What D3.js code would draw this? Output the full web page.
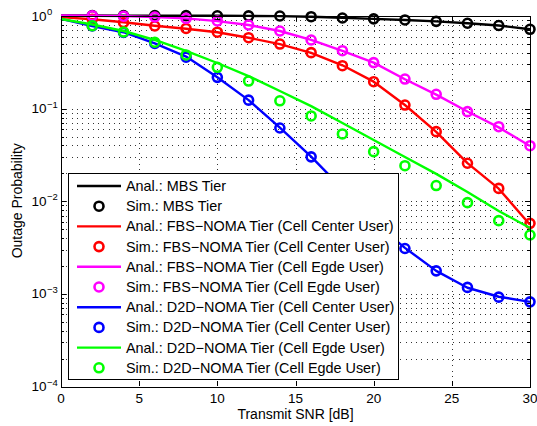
<!DOCTYPE html>
<meta charset="utf-8">
<style>
body { margin: 0; background: #fff; }
text { font-family: "Liberation Sans", Arial, sans-serif; fill: #000; }
.grid line { stroke: #333; stroke-width: 1; stroke-dasharray: 1,4.3; shape-rendering: crispEdges; }
.tick-mark { stroke: #000; stroke-width: 1; shape-rendering: crispEdges; }
</style>
<body>
<script src="https://cdn.jsdelivr.net/npm/d3@7"></script>
<script>

var width = 537,
    height = 426,
    margin = {top: 15.5, right: 7, bottom: 40, left: 61};

// transmit SNR [dB]
var snrLine = [0, 2, 4, 6, 8, 10, 12, 14, 16, 18, 20, 22, 24, 26, 28, 30];
var snrSim  = [2, 4, 6, 8, 10, 12, 14, 16, 18, 20, 22, 24, 26, 28, 30];

// analytical curves (at snrLine)
var mbsAnal      = [0.999, 0.999, 0.998, 0.997, 0.996, 0.994, 0.99, 0.985, 0.97, 0.945, 0.92, 0.895, 0.865, 0.825, 0.78, 0.71];
var fbsCenterAnal = [0.96, 0.91, 0.845, 0.775, 0.72, 0.66, 0.575, 0.49, 0.395, 0.29, 0.193, 0.108, 0.0555, 0.0255, 0.0135, 0.0055];
var fbsEdgeAnal  = [0.999, 0.995, 0.985, 0.965, 0.93, 0.87, 0.79, 0.68, 0.545, 0.415, 0.31, 0.205, 0.14, 0.092, 0.062, 0.039];
var d2dCenterAnal = [0.92, 0.77, 0.66, 0.5, 0.36, 0.215, 0.122, 0.0615, 0.03, 0.0135, 0.0059, 0.0031, 0.00175, 0.00115, 0.00092, 0.00081];
var d2dEdgeAnal  = [0.917, 0.8, 0.68, 0.544, 0.414, 0.307, 0.222, 0.153, 0.105, 0.069, 0.0453, 0.0297, 0.0195, 0.01245, 0.00776, 0.00508];

// simulation points (at snrSim)
var mbsSim       = [0.999, 0.998, 0.997, 0.996, 0.994, 0.99, 0.988, 0.97, 0.94, 0.92, 0.895, 0.865, 0.825, 0.78, 0.71];
var fbsCenterSim = [0.91, 0.84, 0.77, 0.725, 0.66, 0.576, 0.492, 0.397, 0.287, 0.193, 0.108, 0.0557, 0.0254, 0.0136, 0.0057];
var fbsEdgeSim   = [0.995, 0.983, 0.963, 0.93, 0.872, 0.79, 0.68, 0.544, 0.417, 0.31, 0.206, 0.141, 0.0916, 0.063, 0.0393];
var d2dCenterSim = [0.77, 0.655, 0.5, 0.355, 0.215, 0.122, 0.061, 0.0298, 0.0136, 0.006, 0.00305, 0.00175, 0.00116, 0.00091, 0.00081];
var d2dEdgeSim   = [0.776, 0.664, 0.514, 0.375, 0.276, 0.196, 0.12, 0.0823, 0.0526, 0.0339, 0.0239, 0.0146, 0.00954, 0.0061, 0.00427];

var xTicks = [0, 5, 10, 15, 20, 25, 30];
var yTicks = [1e-4, 1e-3, 1e-2, 1e-1, 1];
var yExponents = ["\u22124", "\u22123", "\u22122", "\u22121", "0"];

var series = [
  {tier: "MBS Tier", color: "#000000", anal: mbsAnal, sim: mbsSim},
  {tier: "FBS\u2212NOMA Tier (Cell Center User)", color: "#ff0000", anal: fbsCenterAnal, sim: fbsCenterSim},
  {tier: "FBS\u2212NOMA Tier (Cell Egde User)", color: "#ff00ff", anal: fbsEdgeAnal, sim: fbsEdgeSim},
  {tier: "D2D\u2212NOMA Tier (Cell Center User)", color: "#0000ff", anal: d2dCenterAnal, sim: d2dCenterSim},
  {tier: "D2D\u2212NOMA Tier (Cell Egde User)", color: "#00ff00", anal: d2dEdgeAnal, sim: d2dEdgeSim}
];

var w = width - margin.left - margin.right,
    h = height - margin.top - margin.bottom;

var x = d3.scaleLinear().domain([0, 30]).range([0, w]);
var y = d3.scaleLog().domain([1e-4, 1]).range([h, 0]);

var svg = d3.select("body").append("svg")
    .attr("width", width)
    .attr("height", height)
  .append("g")
    .attr("transform", "translate(" + margin.left + "," + margin.top + ")");

// minor values for log grid
var yMinor = [];
yTicks.slice(0, -1).forEach(function(d) {
  for (var k = 1; k < 10; k++) yMinor.push(d * k);
});
yMinor.push(1);

var grid = svg.append("g").attr("class", "grid");
grid.selectAll(".gx").data(xTicks.slice(1, -1)).enter().append("line")
    .attr("x1", function(d) { return Math.round(x(d)) + 0.5; })
    .attr("x2", function(d) { return Math.round(x(d)) + 0.5; })
    .attr("y1", 0).attr("y2", h);
grid.selectAll(".gy").data(yMinor.slice(1, -1)).enter().append("line")
    .attr("x1", 0).attr("x2", w)
    .attr("y1", function(d) { return Math.round(y(d)) + 0.5; })
    .attr("y2", function(d) { return Math.round(y(d)) + 0.5; });

// ticks (inward, all four sides)
var ticks = svg.append("g");
xTicks.forEach(function(d) {
  var px = Math.round(x(d)) + 0.5;
  ticks.append("line").attr("class", "tick-mark").attr("x1", px).attr("x2", px).attr("y1", h).attr("y2", h - 5);
  ticks.append("line").attr("class", "tick-mark").attr("x1", px).attr("x2", px).attr("y1", 0).attr("y2", 5);
});
yMinor.forEach(function(d) {
  var py = Math.round(y(d)) + 0.5;
  var major = Math.abs(Math.log10(d) - Math.round(Math.log10(d))) < 1e-9;
  var len = major ? 5 : 3;
  ticks.append("line").attr("class", "tick-mark").attr("x1", 0).attr("x2", len).attr("y1", py).attr("y2", py);
  ticks.append("line").attr("class", "tick-mark").attr("x1", w).attr("x2", w - len).attr("y1", py).attr("y2", py);
});

// tick labels
svg.append("g").selectAll("text").data(xTicks).enter().append("text")
    .attr("x", function(d) { return x(d); })
    .attr("y", h + 17)
    .attr("text-anchor", "middle")
    .style("font-size", "13.5px")
    .text(function(d) { return d; });

var yl = svg.append("g").selectAll("g").data(yTicks).enter().append("g")
    .attr("transform", function(d) { return "translate(0," + y(d) + ")"; });
yl.append("text")
    .attr("x", -14.5).attr("y", 5)
    .attr("text-anchor", "end")
    .style("font-size", "13.5px")
    .text("10");
yl.append("text")
    .attr("x", -14).attr("y", -0.5)
    .style("font-size", "9.5px")
    .text(function(d, i) { return yExponents[i]; });

// axis labels
svg.append("text")
    .attr("x", w / 2).attr("y", h + 32.5)
    .attr("text-anchor", "middle")
    .style("font-size", "14px")
    .text("Transmit SNR [dB]");
svg.append("text")
    .attr("transform", "translate(" + (22 - margin.left) + "," + (h / 2) + ") rotate(-90)")
    .attr("text-anchor", "middle")
    .style("font-size", "14px")
    .text("Outage Probability");

// curves
var line = d3.line()
    .x(function(d) { return x(d[0]); })
    .y(function(d) { return y(d[1]); });

var plot = svg.append("g");
series.forEach(function(s) {
  plot.append("path")
      .datum(d3.zip(snrLine, s.anal))
      .attr("d", line)
      .attr("fill", "none")
      .attr("stroke", s.color)
      .attr("stroke-width", 2.4)
      .attr("stroke-linejoin", "round");
  plot.selectAll(null).data(d3.zip(snrSim, s.sim)).enter().append("circle")
      .attr("cx", function(d) { return x(d[0]); })
      .attr("cy", function(d) { return y(d[1]); })
      .attr("r", 4.5)
      .attr("fill", "none")
      .attr("stroke", s.color)
      .attr("stroke-width", 2.6);
});

// axes box
svg.append("rect")
    .attr("x", 0.5).attr("y", 0.5)
    .attr("width", Math.round(w)).attr("height", Math.round(h))
    .attr("fill", "none")
    .attr("stroke", "#000")
    .attr("stroke-width", 1)
    .style("shape-rendering", "crispEdges");

// legend
var lg = svg.append("g").attr("transform", "translate(" + (68 - margin.left) + "," + (173 - margin.top) + ")");
lg.append("rect")
    .attr("x", 0.5).attr("y", 0.5)
    .attr("width", 330).attr("height", 206)
    .attr("fill", "#fff")
    .attr("stroke", "#000")
    .style("shape-rendering", "crispEdges");

var entries = [];
series.forEach(function(s) {
  entries.push({label: "Anal.: " + s.tier, color: s.color, kind: "line"});
  entries.push({label: "Sim.: " + s.tier, color: s.color, kind: "marker"});
});

var row = lg.selectAll(".row").data(entries).enter().append("g")
    .attr("transform", function(d, i) { return "translate(0," + (13 + i * 20.2) + ")"; });
row.filter(function(d) { return d.kind === "line"; }).append("line")
    .attr("x1", 9).attr("x2", 53)
    .attr("stroke", function(d) { return d.color; })
    .attr("stroke-width", 2.4);
row.filter(function(d) { return d.kind === "marker"; }).append("circle")
    .attr("cx", 31).attr("r", 4.5)
    .attr("fill", "none")
    .attr("stroke", function(d) { return d.color; })
    .attr("stroke-width", 2.6);
row.append("text")
    .attr("x", 58).attr("y", 5)
    .style("font-size", "14.4px")
    .text(function(d) { return d.label; });

</script>
